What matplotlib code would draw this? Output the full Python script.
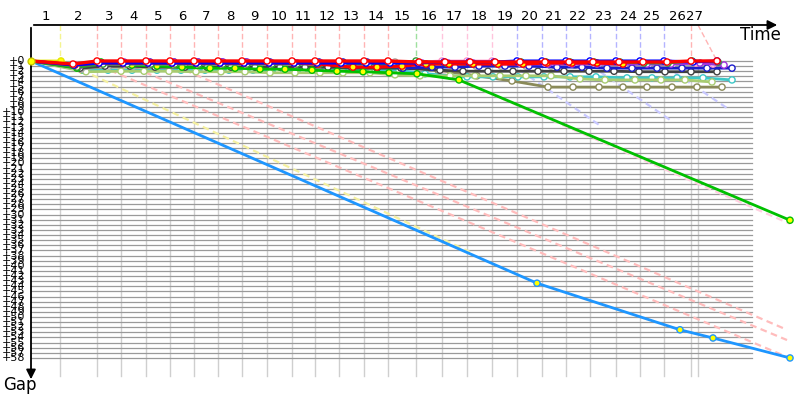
import matplotlib
matplotlib.use("Agg")
import matplotlib.pyplot as plt

# leader lap times (s) and the colour of the leader on that lap
LAP_TIMES = [2.9, 6.6, 9.0, 11.5, 13.9, 16.3, 18.7, 21.1, 23.6, 26.1, 28.4, 30.8, 33.3, 35.7,
             38.5, 41.1, 43.6, 46.1, 48.6, 51.1, 53.5, 55.9, 58.5, 60.9, 63.3, 66.0, 66.7]
LAP_LINE_COLORS = (["#f4f490"] + ["#ffb4b4"] * 13 + ["#9ee09e"] + ["#ffc4dc"] * 3
                   + ["#b4b4ff"] * 7 + ["#ffb4b4"])
LAP_LABELS = [str(i) for i in range(1, 28)]
GAP_LABELS = ["+%d" % i for i in range(0, 59)]

# ---- drivers: time of each lap crossing, gap to leader -----------------------
yellow_t = [0, 3.0, 5.1]
yellow_g = [0, 0, 1.8]

lblue_t = [0, 50.6, 64.9, 68.2, 75.9]
lblue_g = [0, 43.4, 52.5, 54.1, 58.0]

green_t = [0, 4.6, 7.0, 10.1, 12.6, 15.1, 17.9, 20.4, 22.9, 25.4, 28.1, 30.6, 33.2, 35.8, 38.6, 42.8, 75.9]
green_g = [0, 1.4, 0.2, 0.8, 1.0, 1.2, 1.4, 1.4, 1.6, 1.6, 1.8, 2.0, 2.1, 2.3, 2.5, 3.7, 31.1]

red_t = [0, 4.2, 6.6, 9.0, 11.5, 13.9, 16.3, 18.7, 21.1, 23.6, 26.1, 28.4, 30.8, 33.3, 35.7,
         38.8, 41.4, 43.9, 46.4, 48.9, 51.4, 53.8, 56.2, 58.8, 61.2, 63.6, 66.0, 68.6]
red_g = [0, 0.6] + [0] * 13 + [0.2] * 11 + [0, 0]

red2_t = [0, 4.4, 6.8, 9.2, 11.7, 14.1, 16.5, 18.9, 21.3, 23.8, 26.3, 28.7, 32.2, 34.6, 37.1,
          39.5, 41.8, 44.2, 46.7, 49.2, 51.6, 54.1, 56.6, 59.2]
red2_g = [0, 0.8, 0.4, 0.4, 0.4, 0.4, 0.4, 0.4, 0.4, 0.4, 0.4, 0.6, 1.2, 1.2, 1.0,
          0.6, 0.6, 0.6, 0.6, 0.6, 0.4, 0.4, 0.4, 0.6]

purple_t = [0, 4.8, 6.9, 9.3, 11.8, 14.3, 16.7, 19.2, 21.6, 24.1, 26.6, 29.0, 31.5, 34.0, 36.5,
            39.1, 41.7, 44.2, 46.7, 49.2, 51.7, 54.1, 56.6, 59.2, 61.6, 64.0, 66.9, 69.3]
purple_g = [0, 1.0, 0.4, 0.2, 0.2, 0.2, 0.2, 0.2, 0.2, 0.4, 0.4, 0.4, 0.6, 0.6, 0.6,
            0.4, 0.4, 0.4, 0.6, 0.6, 0.6, 0.6, 0.6, 0.6, 0.6, 0.6, 0.4, 0.8]

dgreen_t = [0, 4.6, 7.2, 9.6, 12.0, 14.4, 16.8, 19.2, 21.6, 24.1, 26.6, 28.9, 31.3, 33.8, 36.2,
            38.5, 41.5, 44.0, 46.5, 49.0, 51.5, 53.9, 56.3, 58.9, 61.3, 63.7, 66.1, 68.7]
dgreen_g = [0, 1.2, 0.6, 0.6, 0.6, 0.6, 0.6, 0.6, 0.6, 0.6, 0.6, 0.6, 0.6, 0.6, 0.6,
            0, 0.4, 0.4, 0.4, 0.2, 0.2, 0.2, 0.2, 0.2, 0.4, 0.4, 0.0, 0.2]

pink_t = [0, 4.5, 7.0, 9.4, 11.9, 14.3, 16.7, 19.1, 21.5, 24.0, 26.5, 28.8, 31.2, 33.7, 36.1,
          38.7, 41.1, 43.6, 46.1, 48.9, 51.4, 53.9, 56.3, 58.9, 61.4, 63.9, 66.5, 68.2]
pink_g = [0, 0.8, 0.6, 0.6, 0.6, 0.6, 0.6, 0.6, 0.6, 0.6, 0.6, 0.6, 0.6, 0.6, 0.4,
          0.2, 0, 0, 0, 0.4, 0.4, 0.4, 0.4, 0.4, 0.4, 0.4, 0.4, 0.6]

blue_t = [0, 4.3, 6.8, 9.2, 11.7, 14.1, 16.5, 18.9, 21.3, 23.8, 26.3, 28.6, 31.0, 33.5, 35.9,
          38.7, 41.3, 43.8, 46.3, 48.6, 51.1, 53.5, 55.9, 58.5, 60.9, 63.3, 66.2, 68.6]
blue_g = [0, 0.8] + [0.4] * 13 + [0.4, 0.2, 0.2, 0.2] + [0] * 7 + [0.2, 0]

blue2_t = [0, 4.7, 7.0, 9.4, 11.9, 14.3, 16.7, 19.1, 21.5, 23.9, 26.2, 28.8, 31.2, 33.6, 37.2,
           40.1, 42.4, 44.8, 47.4, 49.8, 52.6, 55.1, 57.6, 60.1, 62.6, 65.1, 67.6, 70.1]
blue2_g = [0, 1.0, 0.4, 0.4, 0.2, 0.2, 0.2, 0.2, 0.2, 0.2, 0.2, 0.2, 0.2, 0.2, 1.4,
           1.2, 1.2, 1.0, 1.0, 1.0, 1.2, 1.2, 1.4, 1.4, 1.4, 1.4, 1.4, 1.4]

dgray_t = [0, 4.9, 7.4, 9.9, 12.4, 15.4, 17.6, 20.0, 22.4, 24.9, 27.4, 29.7, 32.1, 34.6, 37.0,
           40.9, 43.2, 45.7, 48.2, 50.7, 53.3, 55.8, 58.3, 60.8, 63.4, 66.0, 68.6]
dgray_g = [0, 1.4, 1.0, 1.0, 1.2, 1.2, 1.2, 1.2, 1.2, 1.2, 1.2, 1.2, 1.4, 1.4, 1.4,
           1.8, 2.0, 2.0, 2.0, 2.0, 2.0, 2.0, 2.0, 2.1, 2.1, 2.1, 2.1]

olive_t = [0, 5.0, 7.5, 10.0, 12.5, 14.9, 17.3, 19.7, 22.1, 24.6, 27.1, 29.4, 31.8, 34.3, 36.7,
           38.2, 40.7, 44.6, 48.1, 51.7, 54.2, 56.8, 59.2, 61.6, 64.1, 66.6, 69.1]
olive_g = [0, 1.6, 1.2, 1.2, 1.2, 1.2, 1.2, 1.2, 1.2, 1.2, 1.2, 1.2, 1.2, 1.2, 1.0,
           0.8, 1.8, 2.9, 3.9, 5.1, 5.1, 5.1, 5.1, 5.1, 5.1, 5.1, 5.1]

lgreen_t = [0, 5.5, 9.0, 11.3, 13.8, 16.5, 19.0, 21.4, 23.9, 26.4, 28.9, 31.2, 33.9, 36.4, 38.9,
            41.9, 44.4, 46.9, 49.5, 52.0, 54.9, 57.4, 60.4, 63.0, 65.4, 68.1]
lgreen_g = [0, 2.1, 2.0, 2.0, 2.0, 2.1, 2.1, 2.1, 2.3, 2.3, 2.3, 2.3, 2.3, 2.7, 2.9,
            2.9, 2.9, 2.9, 2.9, 2.9, 3.5, 3.7, 3.7, 3.7, 3.7, 4.1]

cyan_t = [0, 5.2, 7.7, 10.1, 12.6, 15.0, 17.4, 19.8, 22.2, 24.7, 27.2, 29.5, 31.9, 34.4, 36.8,
          39.4, 43.6, 46.2, 48.7, 51.3, 53.9, 56.5, 59.6, 62.1, 64.6, 67.2, 70.1]
cyan_g = [0, 1.8, 1.8, 1.8, 1.8, 1.8, 1.8, 1.8, 1.8, 1.8, 1.8, 1.8, 1.8, 1.8, 1.8,
          2.5, 3.1, 3.1, 3.1, 3.1, 3.1, 3.1, 3.3, 3.3, 3.3, 3.3, 3.7]

gray_t = [0, 5.0, 7.8, 10.2, 12.7, 15.1, 17.5, 19.9, 22.3, 24.8, 27.2, 29.7, 32.0, 34.5, 36.4,
          39.4, 42.0, 44.5, 47.0, 49.5, 52.0, 54.4, 56.8, 59.4, 61.8, 64.2, 67.9]
gray_g = [0, 1.6, 1.0, 1.0, 1.0, 0.8, 0.8, 0.8, 0.8, 0.8, 0.8, 1.2, 1.2, 1.2, 0.2,
          0.8, 0.8, 1.0, 1.0, 1.0, 1.0, 0.8, 0.8, 0.8, 0.8, 0.8, 1.0]

# retired / lapped projections (start time, start gap, end time, end gap, colour)
DASHED = [
    (5.1, 1.8, 43.9, 37.3, "#f4f0a0"),
    (6.9, 1.0, 75.6, 57.8, "#ffbcbc"),
    (10.4, 1.4, 75.6, 54.5, "#ffbcbc"),
    (15.4, 1.8, 75.6, 52.5, "#ffbcbc"),
    (40.9, 2.1, 75.9, 31.8, "#ffd0e0"),
    (48.9, 1.8, 56.9, 12.6, "#c8c8ff"),
    (56.9, 2.1, 63.9, 11.5, "#c8c8ff"),
    (64.4, 2.3, 69.9, 9.6, "#c8c8ff"),
]

# (times, gaps, line colour, marker fill, number of leading yellow markers, width)
DRIVERS = [
    (lblue_t, lblue_g, "#1e96ff", "#ffff00", 0, 2.0),
    (yellow_t, yellow_g, "#e6e600", "#ffff00", 0, 2.0),
    (olive_t, olive_g, "#8a8a58", "white", 0, 2.0),
    (cyan_t, cyan_g, "#3cc8c8", "white", 0, 2.0),
    (lgreen_t, lgreen_g, "#a8cc70", "white", 0, 2.0),
    (gray_t, gray_g, "#a8a8a0", "white", 0, 2.0),
    (dgray_t, dgray_g, "#404040", "white", 0, 2.0),
    (green_t, green_g, "#00c000", "#ffff00", 0, 2.0),
    (blue2_t, blue2_g, "#1c1ccc", "white", 15, 2.0),
    (pink_t, pink_g, "#ff94c8", "white", 0, 2.0),
    (purple_t, purple_g, "#a030e0", "white", 9, 2.0),
    (dgreen_t, dgreen_g, "#339933", "white", 0, 2.0),
    (red2_t, red2_g, "#ff0000", "#ffff00", 0, 2.2),
    (blue_t, blue_g, "#0000ff", "white", 0, 2.2),
    (red_t, red_g, "#ff0000", "white", 0, 2.4),
]

# pixel-calibrated view: t = (px - 31) / 10, g = (py - 61) / 5.12
fig = plt.figure(figsize=(8, 4), dpi=100)
ax = fig.add_axes([0, 0, 1, 1])
ax.set_xlim(-3.1, 76.9)
ax.set_ylim(66.21, -11.91)
ax.axis("off")

TOP = -7.03
GRID_END = 72.1

# horizontal gap grid
for g in range(len(GAP_LABELS)):
    ax.plot([0, GRID_END], [g, g], color="#9a9a9a", lw=0.9, zorder=1)
    ax.text(-0.55, g, GAP_LABELS[g], ha="right", va="center", fontsize=8, color="black")

# lap lines: grey below the zero line, leader colour above it
for i, t in enumerate(LAP_TIMES):
    ax.plot([t, t], [0, 61.5], color="#cfcfcf", lw=1.0, zorder=0.5)
    if i < len(LAP_LINE_COLORS):
        ax.plot([t, t], [TOP, 0], color=LAP_LINE_COLORS[i], lw=1.0, ls=(0, (4, 2)), zorder=2)
ax.plot([LAP_TIMES[-1], red_t[-1]], [TOP, 0], color="#ffb4b4", lw=1.0, ls=(0, (4, 2)), zorder=2)

prev = 0
for t, lab in zip(LAP_TIMES, LAP_LABELS):
    ax.text((prev + t) / 2, -8.6, lab, ha="center", va="center", fontsize=9.5)
    prev = t

for t0, g0, t1, g1, c in DASHED:
    ax.plot([t0, t1], [g0, g1], color=c, lw=1.6, ls=(0, (3, 2)), zorder=2.5)

for k, (t, g, c, fill, n_yellow, lw) in enumerate(DRIVERS):
    z = 3 + k * 0.1
    ax.plot(t, g, color=c, lw=lw, solid_joinstyle="round", zorder=z, clip_on=False)
    fills = ["#ffff00"] * n_yellow + [fill] * (len(t) - 1 - n_yellow)
    ax.scatter(t[1:], g[1:], s=20, facecolors=fills[:len(t) - 1], edgecolors=c,
               linewidths=1.0, zorder=z + 0.05, clip_on=False)

ax.scatter([0], [0], s=24, facecolors="#ffff00", edgecolors="#c8c800", linewidths=1.0, zorder=6)

# axes with arrows
ax.annotate("", xy=(74.9, TOP), xytext=(0, TOP),
            arrowprops=dict(arrowstyle="-|>", color="black", lw=1.3, mutation_scale=14))
ax.annotate("", xy=(0, 62.7), xytext=(0, TOP),
            arrowprops=dict(arrowstyle="-|>", color="black", lw=1.3, mutation_scale=14))
ax.text(72.9, -5.1, "Time", ha="center", va="center", fontsize=12)
ax.text(-1.1, 63.3, "Gap", ha="center", va="center", fontsize=12)

fig.savefig("out.png", dpi=100)
